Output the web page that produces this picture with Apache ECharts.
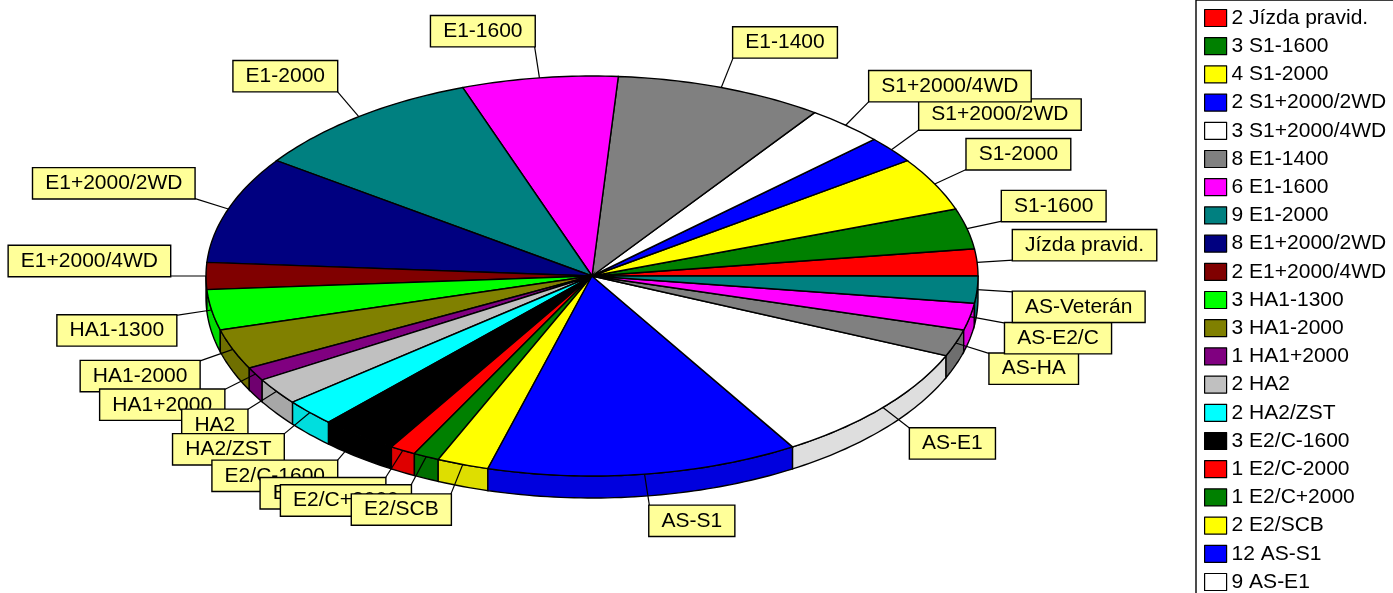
<!DOCTYPE html>
<html>
<head>
<meta charset="utf-8">
<script src="https://cdn.jsdelivr.net/npm/echarts@6/dist/echarts.min.js"></script>
<style>
  html, body { margin: 0; padding: 0; background: #fff; }
  #chart { width: 1393px; height: 593px; }
</style>
</head>
<body>
<div id="chart"></div>
<script>
// categories and counts, in slice order (counterclockwise from 3 o'clock)
const categories = [
  'Jízda pravid.', 'S1-1600', 'S1-2000', 'S1+2000/2WD', 'S1+2000/4WD',
  'E1-1400', 'E1-1600', 'E1-2000', 'E1+2000/2WD', 'E1+2000/4WD',
  'HA1-1300', 'HA1-2000', 'HA1+2000', 'HA2', 'HA2/ZST',
  'E2/C-1600', 'E2/C-2000', 'E2/C+2000', 'E2/SCB',
  'AS-S1', 'AS-E1', 'AS-HA', 'AS-E2/C', 'AS-Veterán'
]
const counts = [2, 3, 4, 2, 3, 8, 6, 9, 8, 2, 3, 3, 1, 2, 2, 3, 1, 1, 2, 12, 9, 2, 2, 2]

// excel default palette
const sliceColors = [
  '#FF0000', '#008000', '#FFFF00', '#0000FF', '#FFFFFF',
  '#808080', '#FF00FF', '#008080', '#000080', '#800000',
  '#00FF00', '#808000', '#800080', '#C0C0C0', '#00FFFF',
  '#000000', '#FF0000', '#008000', '#FFFF00', '#0000FF',
  '#FFFFFF', '#808080', '#FF00FF', '#008080'
]

// pie geometry (tilted 3d look)
const CX = 592, CY = 276, RX = 386, RY = 200, DEPTH = 22
const FONT = '21px Arial, "Liberation Sans", sans-serif'
const EDGE = 1.4

const total = counts.reduce((a, b) => a + b, 0)
const startDeg = []
const endDeg = []
let acc = 0
counts.forEach(v => {
  startDeg.push(acc / total * 360)
  acc += v
  endDeg.push(acc / total * 360)
})

const pt = (deg, dy) => {
  const t = deg * Math.PI / 180
  return [CX + RX * Math.cos(t), CY - RY * Math.sin(t) + (dy || 0)]
}

const shade = (hex, f) => {
  const n = parseInt(hex.slice(1), 16)
  const r = Math.round(((n >> 16) & 255) * f)
  const g = Math.round(((n >> 8) & 255) * f)
  const b = Math.round((n & 255) * f)
  return 'rgb(' + r + ',' + g + ',' + b + ')'
}

const arc = (a1, a2, dy) => {
  const pts = []
  const steps = Math.max(2, Math.ceil(a2 - a1))
  for (let k = 0; k <= steps; k++) pts.push(pt(a1 + (a2 - a1) * k / steps, dy))
  return pts
}

// outer wall, only the front half is visible
const renderWall = (params, api) => {
  const i = params.dataIndex
  const a1 = Math.max(startDeg[i], 180)
  const a2 = Math.min(endDeg[i], 360)
  if (a2 <= a1) return null
  const points = arc(a1, a2, 0).concat(arc(a1, a2, DEPTH).reverse())
  return {
    type: 'polygon',
    shape: { points: points },
    style: { fill: shade(sliceColors[i], 0.87), stroke: '#000', lineWidth: EDGE }
  }
}

// top face of each slice
const renderTop = (params, api) => {
  const i = params.dataIndex
  const points = [[CX, CY]].concat(arc(startDeg[i], endDeg[i], 0))
  return {
    type: 'polygon',
    shape: { points: points },
    style: { fill: sliceColors[i], stroke: '#000', lineWidth: EDGE }
  }
}

// label boxes with leader lines
const renderLabel = (params, api) => {
  const i = params.dataIndex
  const mid = (startDeg[i] + endDeg[i]) / 2
  const t = mid * Math.PI / 180
  const c = Math.cos(t)
  const s = Math.sin(t)
  const anchor = [CX + RX * c, CY - RY * s]
  const p = [CX + (RX + 36) * c, CY - (RY + 32) * s]
  return {
    type: 'group',
    children: [
      {
        type: 'line',
        shape: { x1: anchor[0], y1: anchor[1], x2: p[0], y2: p[1] },
        style: { stroke: '#000', lineWidth: 1.2 }
      },
      {
        type: 'text',
        x: p[0],
        y: p[1],
        style: {
          text: categories[i],
          font: FONT,
          fill: '#000',
          align: c >= 0 ? 'left' : 'right',
          verticalAlign: s >= -1e-9 ? 'bottom' : 'top',
          lineHeight: 22,
          padding: [4, 12, 4, 12],
          backgroundColor: '#FFFF99',
          borderColor: '#000',
          borderWidth: EDGE
        }
      }
    ]
  }
}

const chart = echarts.init(document.getElementById('chart'))

const option = {
  animation: false,
  backgroundColor: '#fff',
  color: sliceColors,
  legend: {
    data: categories,
    orient: 'vertical',
    left: 1196,
    top: 0,
    height: 900,
    padding: [7, 10, 7, 8],
    backgroundColor: '#fff',
    borderColor: '#000',
    borderWidth: EDGE,
    itemWidth: 22,
    itemHeight: 17,
    itemGap: 6.2,
    icon: 'rect',
    selectedMode: false,
    itemStyle: { borderColor: '#000', borderWidth: 1.2 },
    textStyle: {
      fontFamily: 'Arial, "Liberation Sans", sans-serif',
      fontSize: 21,
      lineHeight: 22,
      color: '#000'
    },
    formatter: name => counts[categories.indexOf(name)] + ' ' + name
  },
  series: [
    {
      // only feeds the legend
      type: 'pie',
      silent: true,
      center: [-200, -200],
      radius: [0, 0],
      label: { show: false },
      labelLine: { show: false },
      data: categories.map((n, i) => ({ name: n, value: counts[i] }))
    },
    {
      type: 'custom',
      coordinateSystem: 'none',
      silent: true,
      renderItem: renderWall,
      data: counts
    },
    {
      type: 'custom',
      coordinateSystem: 'none',
      silent: true,
      renderItem: renderTop,
      data: counts
    },
    {
      type: 'custom',
      coordinateSystem: 'none',
      silent: true,
      renderItem: renderLabel,
      data: counts
    }
  ]
}

chart.setOption(option)
</script>
</body>
</html>
